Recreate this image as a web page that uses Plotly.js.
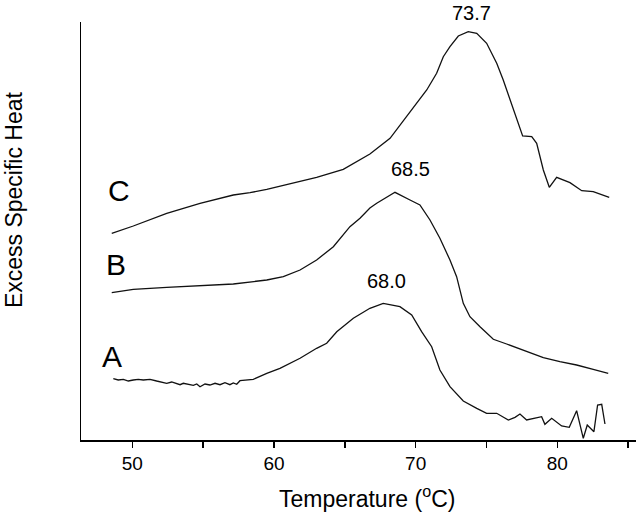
<!DOCTYPE html>
<html>
<head>
<meta charset="utf-8">
<script src="https://cdn.plot.ly/plotly-3.0.1.min.js"></script>
<style>html,body{margin:0;padding:0;background:#fff;}#chart{width:640px;height:513px;}</style>
</head>
<body>
<div id="chart"></div>
<script>
// Temperature (°C) and excess specific heat (arbitrary units)
const tempC = [48.55, 50.07, 52.43, 54.78, 57.13, 58.31, 59.49, 61.84, 63.01, 64.89, 66.07, 66.77, 68.19, 69.37, 70.07, 70.78, 71.48, 71.95, 72.42, 73.01, 73.71, 74.31, 75.01, 75.72, 76.18, 76.66, 77.13, 77.55, 78.19, 78.54, 79.01, 79.43, 79.95, 80.89, 81.72, 82.53, 83.66];
const heatC = [206.7, 214, 226.7, 236.7, 245, 247.3, 250.7, 259, 262.7, 270.7, 280, 286, 301.7, 323.3, 336.7, 350, 366.7, 383.3, 393.3, 404, 408.3, 406.7, 396.7, 376.7, 360, 340, 320, 304, 303.3, 296.7, 270, 252.7, 262.7, 257.3, 249.3, 248.3, 242.7];

const tempB = [48.55, 50.07, 52.43, 54.78, 57.13, 59.49, 60.66, 61.84, 63.01, 64.19, 65.36, 66.07, 66.77, 67.25, 68.54, 69.60, 70.30, 71.01, 71.71, 72.42, 72.89, 73.36, 73.83, 74.54, 75.48, 76.42, 77.83, 79.01, 80.18, 81.36, 82.53, 83.59];
const heatB = [147.3, 150.7, 152.7, 154, 156, 160, 163.3, 170, 180, 193.3, 213.3, 221.7, 232, 236.7, 247.7, 240, 235, 220, 201.7, 180, 163.3, 136.7, 123.3, 113.3, 100.7, 96, 88.3, 82.3, 78.3, 75, 70.7, 66.7];

const tempA = [48.66, 49.01, 49.37, 49.72, 50.07, 50.42, 50.78, 51.25, 51.72, 52.19, 52.43, 52.78, 53.13, 53.37, 53.60, 53.96, 54.31, 54.55, 54.78, 55.13, 55.48, 55.84, 56.19, 56.54, 56.89, 57.13, 57.37, 57.60, 58.07, 58.54, 59.49, 60.42, 61.84, 63.01, 63.72, 64.43, 65.60, 66.07, 66.77, 67.71, 68.89, 69.72, 70.42, 71.13, 71.71, 72.42, 73.36, 74.31, 75.01, 75.72, 76.54, 77.01, 77.36, 77.83, 78.89, 79.12, 79.60, 80.30, 80.84, 81.36, 81.83, 82.11, 82.58, 82.84, 83.13, 83.36];
const heatA = [61.3, 60, 60.7, 59, 60, 60.7, 60, 60.7, 59, 57.3, 56.7, 58, 56.3, 55.3, 56.7, 55.3, 54.7, 56, 53.3, 56, 55, 56.7, 55.3, 57.3, 55.3, 57, 55.7, 59.3, 60, 60.7, 66.7, 71.7, 81.7, 91.7, 96.7, 108.3, 121.7, 126, 131.7, 136.7, 133.3, 125, 108.3, 93.3, 70, 53.3, 39, 31.7, 26.7, 26.7, 20, 22.7, 26, 20, 23.3, 15.7, 21.7, 14, 12.7, 29.3, 1.7, 15, 8.3, 35, 35.7, 16];

const curveLetters = ['C', 'B', 'A'];
const peakLabels = ['73.7', '68.5', '68.0'];
const majorTicks = [50, 60, 70, 80];
const minorTicks = [55, 65, 75, 85];
const xTitle = 'Temperature (<sup>o</sup>C)';
const yTitle = 'Excess Specific Heat';

const FONT = 'Liberation Sans, Arial, sans-serif';
const lineStyle = {color: '#111', width: 1.3};

const traces = [
  {x: tempC, y: heatC, mode: 'lines', line: lineStyle, name: 'C'},
  {x: tempB, y: heatB, mode: 'lines', line: lineStyle, name: 'B'},
  {x: tempA, y: heatA, mode: 'lines', line: lineStyle, name: 'A'}
];

// label placement in paper coordinates (fractions of the plot area)
const letterPos = [[0.0685, 0.596], [0.0631, 0.421], [0.0559, 0.199]];
const peakPos = [[0.704, 1.022], [0.593, 0.648], [0.550, 0.380]];

const annotations = [];
const base = {xref: 'paper', yref: 'paper', xanchor: 'center', yanchor: 'middle', showarrow: false};
curveLetters.forEach((t, i) => annotations.push(Object.assign({}, base, {
  x: letterPos[i][0], y: letterPos[i][1], text: t,
  font: {family: FONT, size: 30, color: '#000'}
})));
peakLabels.forEach((t, i) => annotations.push(Object.assign({}, base, {
  x: peakPos[i][0], y: peakPos[i][1], text: t,
  font: {family: FONT, size: 20, color: '#000'}
})));
annotations.push(Object.assign({}, base, {
  x: 0.5153, y: -0.1364, text: xTitle,
  font: {family: FONT, size: 23, color: '#000'}
}));
annotations.push(Object.assign({}, base, {
  x: -0.1207, y: 0.574, text: yTitle, textangle: -90,
  font: {family: FONT, size: 23, color: '#000'}
}));

const layout = {
  width: 640, height: 513,
  margin: {l: 81, r: 4, t: 22, b: 73},
  paper_bgcolor: '#fff', plot_bgcolor: '#fff',
  showlegend: false,
  font: {family: FONT, color: '#000'},
  xaxis: {
    range: [46.38, 85.55], showgrid: false, zeroline: false,
    showline: true, linecolor: '#000', linewidth: 1.5,
    ticks: 'outside', ticklen: 6, tickwidth: 1.5, tickcolor: '#000',
    tickmode: 'array', tickvals: majorTicks,
    tickfont: {family: FONT, size: 19, color: '#000'},
    minor: {tickmode: 'array', tickvals: minorTicks, ticks: 'outside', ticklen: 6, tickwidth: 1.5, tickcolor: '#000', showgrid: false}
  },
  yaxis: {
    range: [0, 418], showgrid: false, zeroline: false,
    showline: true, linecolor: '#000', linewidth: 1.5,
    ticks: '', showticklabels: false
  },
  annotations: annotations
};

Plotly.newPlot('chart', traces, layout, {displayModeBar: false, staticPlot: true});
</script>
</body>
</html>
